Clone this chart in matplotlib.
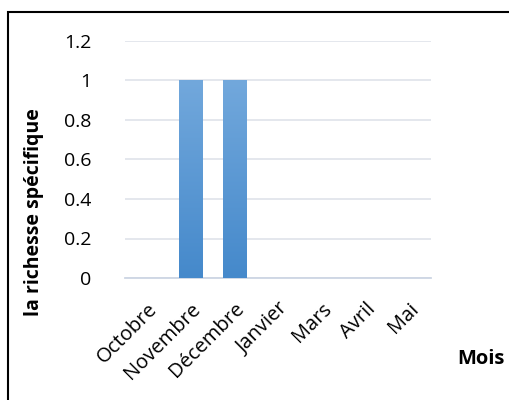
import numpy as np
import matplotlib.pyplot as plt
from matplotlib.patches import Rectangle

mois = ["Octobre", "Novembre", "Décembre", "Janvier", "Mars", "Avril", "Mai"]
richesse = [0, 1, 1, 0, 0, 0, 0]
yticks = [0, 0.2, 0.4, 0.6, 0.8, 1, 1.2]
ylabels = ["0", "0.2", "0.4", "0.6", "0.8", "1", "1.2"]

plt.rcParams['font.family'] = ['Open Sans', 'DejaVu Sans']

W, H = 509, 400
fig = plt.figure(figsize=(W / 100, H / 100), dpi=100)
ax = fig.add_axes([125 / W, 1 - 278 / H, 306 / W, (278 - 41) / H])

x = np.arange(len(mois))
bars = ax.bar(x, richesse, width=0.53, color='none', zorder=3)

# vertical gradient fill like Excel
grad = np.linspace(0, 1, 256).reshape(-1, 1)
cmap = plt.matplotlib.colors.LinearSegmentedColormap.from_list("g", ["#4589cb", "#72a8dc"])
for b in bars:
    if b.get_height() > 0:
        x0, w, h = b.get_x(), b.get_width(), b.get_height()
        im = ax.imshow(grad, cmap=cmap, origin='lower', aspect='auto',
                       extent=[x0, x0 + w, 0, h], zorder=3)
        im.set_clip_path(b)

ax.set_xlim(-0.5, len(mois) - 0.5)
ax.set_ylim(0, 1.2)
ax.set_yticks(yticks)
ax.set_yticklabels(ylabels, fontsize=14)
ax.set_xticks(x)
ax.set_xticklabels(mois, fontsize=14.5, rotation=45, ha='right', rotation_mode='anchor')
ax.tick_params(axis='both', length=0)
ax.tick_params(axis='y', pad=24)
ax.tick_params(axis='x', pad=15)
ax.grid(axis='y', color='#e2e5ec', linewidth=1.3, zorder=0)
for s in ['top', 'right', 'left']:
    ax.spines[s].set_visible(False)
ax.spines['bottom'].set_color('#cdd6e4')
ax.spines['bottom'].set_linewidth(1.3)

ax.set_ylabel("la richesse spécifique", fontsize=14, fontweight='bold')
ax.yaxis.set_label_coords((44 - 125) / 306, (278 - 212) / 237)
fig.text(481 / W, 1 - 359 / H, "Mois", fontsize=14.5, fontweight='bold', ha='center', va='center')

fig.patches.append(Rectangle((8 / W, -0.1), 1.0, 1 - 12 / H + 0.1, transform=fig.transFigure,
                             fill=False, edgecolor='black', linewidth=1.5))

fig.savefig("out.png", dpi=100)
